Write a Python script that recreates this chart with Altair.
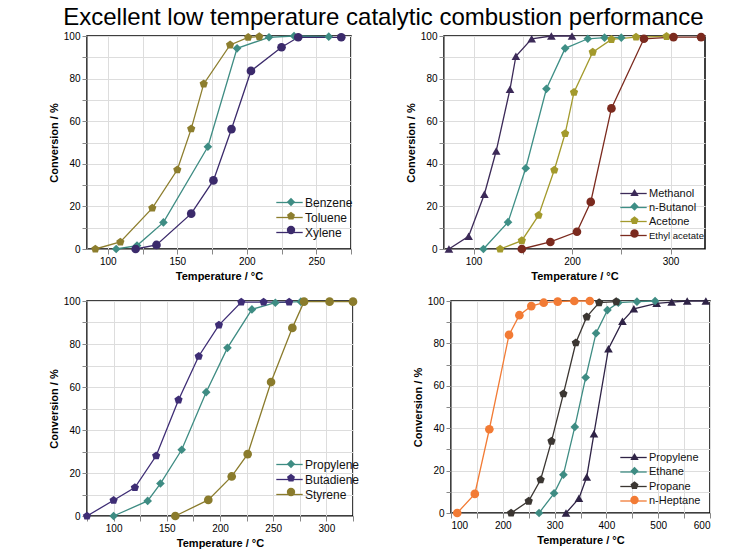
import altair as alt
import pandas as pd

FONT = "Liberation Sans"

# ---------------- Panel 1 ----------------
p1_names = ["Benzene", "Toluene", "Xylene"]
p1_colors = ["#3e8c83", "#8d7e2e", "#3b2a6b"]
benzene_T = [106, 121, 140, 172, 193, 216, 234, 259]
benzene_C = [0, 1.6, 12.5, 48, 94.2, 99.4, 100, 99.7]
toluene_T = [91, 109, 132, 150, 160, 169, 188, 201, 209]
toluene_C = [0, 3.3, 19.2, 37.2, 56.4, 77.5, 95.8, 99.4, 99.7]
xylene_T = [120, 135, 160, 176, 189, 203, 225, 237, 268]
xylene_C = [0, 1.9, 16.6, 32.2, 56.3, 83.6, 94.7, 99.4, 99.4]

# ---------------- Panel 2 ----------------
p2_names = ["Methanol", "n-Butanol", "Acetone", "Ethyl acetate"]
p2_colors = ["#3c2a58", "#3e8f86", "#a39a2c", "#7b2a1e"]
methanol_T = [75, 95, 111, 123, 137, 143, 159, 179, 200]
methanol_C = [0, 6.0, 25.7, 46, 75, 90.5, 98.7, 100, 100]
butanol_T = [110, 135, 153, 174, 193, 216, 233, 250]
butanol_C = [0, 12.6, 37.9, 75.2, 94.2, 98.7, 99.2, 99.2]
acetone_T = [127, 149, 166, 182, 193, 202, 221, 240, 265, 296]
acetone_C = [0, 3.9, 15.8, 37.1, 54.2, 73.6, 92.4, 98.4, 99.5, 99.8]
ethylac_T = [149, 178, 205, 219, 240, 273, 303, 331]
ethylac_C = [0, 3.3, 8.1, 22.1, 66, 98.7, 99.5, 99.5]

# ---------------- Panel 3 ----------------
p3_names = ["Propylene", "Butadiene", "Styrene"]
p3_colors = ["#3e8c83", "#3e2d75", "#8a7b2c"]
propylene3_T = [100, 132, 144, 164, 187, 207, 230, 252, 276]
propylene3_C = [0, 7.0, 15.1, 30.8, 57.6, 78.2, 96.1, 99.2, 99.7]
butadiene_T = [75, 100, 120, 140, 161, 180, 199, 220, 241, 265]
butadiene_C = [0, 7.3, 13.2, 28, 54, 74.3, 88.8, 99.5, 99.5, 99.5]
styrene_T = [158, 189, 211, 226, 248, 268, 279, 303, 325]
styrene_C = [0, 7.5, 18.4, 28.8, 62.3, 87.5, 99.7, 99.7, 99.7]

# ---------------- Panel 4 ----------------
p4_names = ["Propylene", "Ethane", "Propane", "n-Heptane"]
p4_colors = ["#2f2346", "#3e8c83", "#3b3632", "#f27b35"]
propylene4_T = [322, 347, 362, 376, 404, 431, 453, 497, 526, 556, 592]
propylene4_C = [0, 6.9, 17, 37.4, 77.5, 90.4, 96.3, 98.9, 99.5, 100, 100]
ethane_T = [270, 299, 317, 339, 360, 380, 402, 423, 459, 494]
ethane_C = [0, 9.3, 18.1, 40.6, 63.9, 84.8, 95.7, 99.2, 99.7, 100]
propane_T = [216, 250, 273, 294, 317, 341, 362, 386, 419]
propane_C = [0, 5.6, 15.7, 33.9, 56.2, 80.3, 92.5, 99.2, 99.7]
heptane_T = [112, 146, 174, 212, 232, 255, 279, 306, 338, 368]
heptane_C = [0, 9.0, 39.5, 84, 93.3, 97.6, 99.2, 99.7, 100, 100]

PENTAGON = "M0,-1L0.951,-0.309L0.588,0.809L-0.588,0.809L-0.951,-0.309Z"
LEG_LINE = "M-2.4,0L2.4,0"


def build(names, series, colors, shapes, xdom, xticks, xlab_step, w, h, lx, ly, rowpad, lfs):
    rows = []
    for n, (ts, cs) in zip(names, series):
        for t, c in zip(ts, cs):
            rows.append({"series": n, "label": n, "T": t, "C": c})
    df = pd.DataFrame(rows)
    x = alt.X(
        "T:Q",
        scale=alt.Scale(domain=xdom, nice=False, zero=False),
        axis=alt.Axis(
            values=xticks,
            labelExpr=f"datum.value % {xlab_step} == 0 ? datum.label : ''",
            title="Temperature / °C",
        ),
    )
    y = alt.Y(
        "C:Q",
        scale=alt.Scale(domain=[0, 100], nice=False),
        axis=alt.Axis(
            values=list(range(0, 101, 10)),
            labelExpr="datum.value % 20 == 0 ? datum.label : ''",
            title="Conversion / %",
        ),
    )
    stroke_leg = alt.Legend(
        orient="none", legendX=lx, legendY=ly, title=None,
        symbolType=LEG_LINE, symbolSize=121, symbolStrokeWidth=1.3,
        labelFont=FONT, labelFontSize=lfs, labelColor="#111",
        labelOffset=9, rowPadding=rowpad, padding=0,
    )
    shape_leg = alt.Legend(
        orient="none", legendX=lx + 2, legendY=ly, title=None,
        symbolSize=70, symbolStrokeWidth=0, labelExpr="''",
        labelFont=FONT, labelFontSize=lfs,
        labelOffset=9, rowPadding=rowpad, padding=0,
    )
    line = alt.Chart(df).mark_line(strokeWidth=1.3).encode(
        x=x, y=y,
        stroke=alt.Stroke("label:N", sort=names,
                          scale=alt.Scale(range=colors), legend=stroke_leg),
        order="T:Q",
    )
    pts = alt.Chart(df).mark_point(filled=True, opacity=1, size=75).encode(
        x=x, y=y,
        fill=alt.Fill("series:N", scale=alt.Scale(domain=names, range=colors), legend=shape_leg),
        shape=alt.Shape("series:N", scale=alt.Scale(domain=names, range=shapes), legend=shape_leg),
    )
    return alt.layer(line, pts).properties(
        width=w, height=h,
        view=alt.ViewBackground(stroke="#000", strokeWidth=1.5),
    ).resolve_scale(
        stroke="independent", fill="independent", shape="independent"
    )


c1 = build(p1_names, [(benzene_T, benzene_C), (toluene_T, toluene_C), (xylene_T, xylene_C)],
           p1_colors, ["diamond", PENTAGON, "circle"],
           [85, 275], list(range(100, 276, 25)), 50, 264, 213, 196, 160, 2, 12)
c2 = build(p2_names, [(methanol_T, methanol_C), (butanol_T, butanol_C), (acetone_T, acetone_C), (ethylac_T, ethylac_C)],
           p2_colors, ["triangle-up", "diamond", PENTAGON, "circle"],
           [70, 335], list(range(100, 336, 50)), 100, 261, 213, 183, 151, 2,
           alt.ExprRef("datum.label == 'Ethyl acetate' ? 9.5 : 11"))
c3 = build(p3_names, [(propylene3_T, propylene3_C), (butadiene_T, butadiene_C), (styrene_T, styrene_C)],
           p3_colors, ["diamond", PENTAGON, "circle"],
           [75, 325], list(range(75, 326, 25)), 50, 266, 215, 196, 157, 2, 12)
c4 = build(p4_names, [(propylene4_T, propylene4_C), (ethane_T, ethane_C), (propane_T, propane_C), (heptane_T, heptane_C)],
           p4_colors, ["triangle-up", "diamond", PENTAGON, "circle"],
           [100, 600], list(range(100, 601, 50)), 100, 259, 212, 176, 150, 2.5, 11)

res = dict(stroke="independent", fill="independent", shape="independent")
row1 = alt.hconcat(c1, c2, spacing=50).resolve_scale(x="independent", y="independent", **res)
row2 = alt.hconcat(c3, c4, spacing=50).resolve_scale(x="independent", y="independent", **res)

chart = alt.vconcat(row1, row2, spacing=13).resolve_scale(
    x="independent", y="independent", **res
).properties(
    title=alt.TitleParams(
        "Excellent low temperature catalytic combustion performance",
        font=FONT, fontSize=24, fontWeight="normal", color="#000",
        anchor="middle", offset=0, dx=4,
    ),
    padding={"left": 47, "top": 6, "right": 5, "bottom": 5},
).configure_view(
    stroke="#000", strokeWidth=1.5
).configure_axis(
    labelFont=FONT, labelFontSize=11, labelFontWeight="bold", labelColor="#111",
    titleFont=FONT, titleFontSize=13, titleFontWeight="bold", titleColor="#111",
    domainColor="#000", domainWidth=1.5, tickColor="#000", tickWidth=1.2, tickSize=4,
    grid=False, labelOverlap=False, labelPadding=1, titlePadding=3,
).configure(background="white")

chart.save("out.html", embed_options={"renderer": "svg", "actions": False})
